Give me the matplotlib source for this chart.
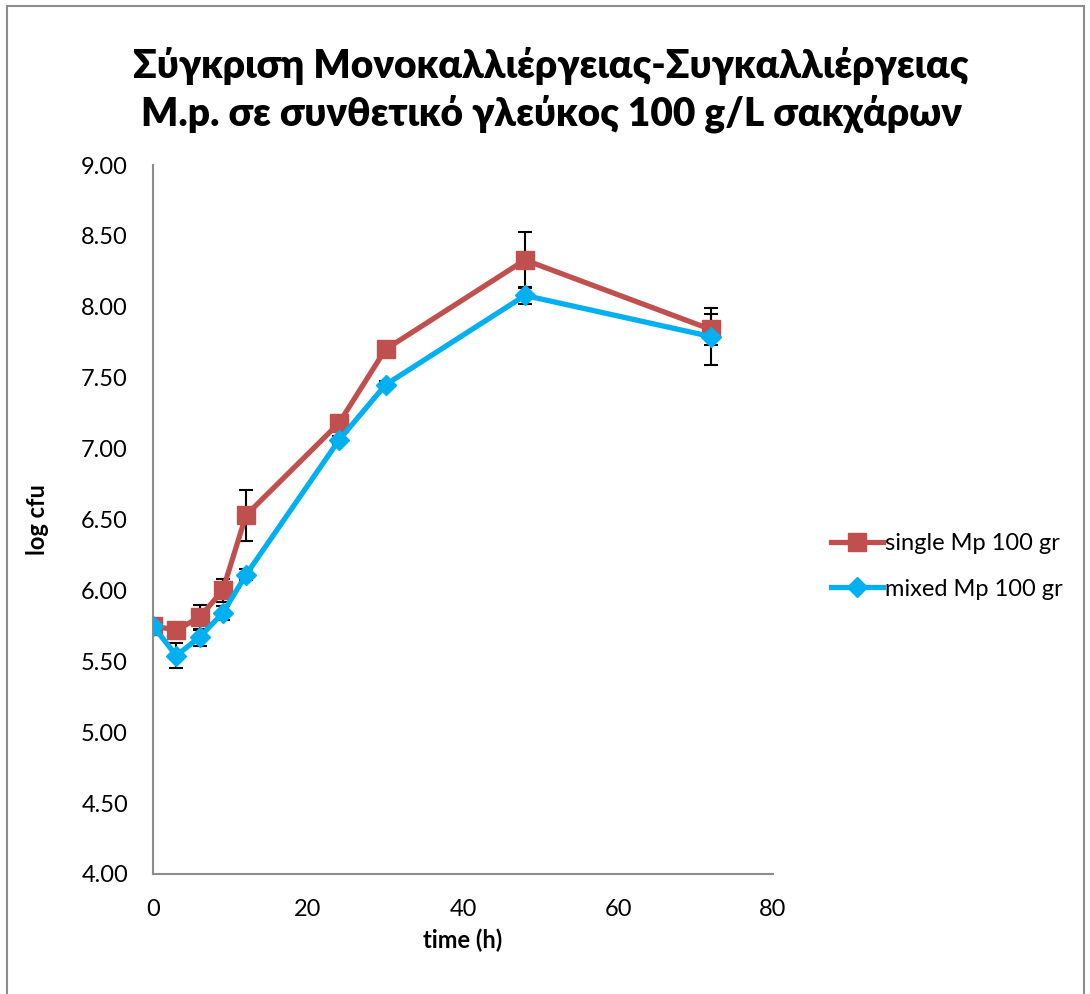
import matplotlib.pyplot as plt
from matplotlib.patches import Rectangle

plt.rcParams['font.family'] = ['Lato', 'DejaVu Sans']

# χρόνος δειγματοληψίας (h)
time_h = [0, 3, 6, 9, 12, 24, 30, 48, 72]

# μονοκαλλιέργεια
single_log = [5.75, 5.72, 5.81, 6.00, 6.53, 7.18, 7.70, 8.33, 7.84]
single_err = [0.03, 0.05, 0.09, 0.08, 0.18, 0.03, 0.03, 0.20, 0.11]

# συγκαλλιέργεια
mixed_log = [5.75, 5.54, 5.67, 5.84, 6.11, 7.06, 7.45, 8.08, 7.79]
mixed_err = [0.03, 0.09, 0.06, 0.05, 0.04, 0.03, 0.03, 0.06, 0.20]

red = '#C0504D'
blue = '#00B0F0'

fig = plt.figure(figsize=(10.9, 9.94), dpi=100)
ax = fig.add_axes([153 / 1090, 1 - 874 / 994, 620 / 1090, 709 / 994])

# πλαίσιο γύρω από το γράφημα
fig.patches.append(Rectangle((7 / 1090, -0.01), 1077 / 1090, 1 - 6 / 994 + 0.01,
                             transform=fig.transFigure, fill=False,
                             edgecolor='#8C8C8C', linewidth=1.5))

ax.errorbar(time_h, single_log, yerr=single_err, fmt='none', ecolor='black',
            elinewidth=1.5, capsize=5, capthick=1.5, zorder=2)
ax.errorbar(time_h, mixed_log, yerr=mixed_err, fmt='none', ecolor='black',
            elinewidth=1.5, capsize=5, capthick=1.5, zorder=2)

ax.plot(time_h, single_log, color=red, linewidth=3.8, marker='s',
        markersize=13, label='single Mp 100 gr', zorder=3)
ax.plot(time_h, mixed_log, color=blue, linewidth=3.8, marker='D',
        markersize=10, label='mixed Mp 100 gr', zorder=4)

ax.set_xlim(0, 80)
ax.set_ylim(4, 9)
ax.set_xticks([0, 20, 40, 60, 80])
ax.set_yticks([4.0, 4.5, 5.0, 5.5, 6.0, 6.5, 7.0, 7.5, 8.0, 8.5, 9.0])
ax.set_yticklabels(['%.2f' % v for v in ax.get_yticks()])
ax.tick_params(length=0, labelsize=17, pad=18)

for side in ['top', 'right']:
    ax.spines[side].set_visible(False)
for side in ['left', 'bottom']:
    ax.spines[side].set_color('#8C8C8C')
    ax.spines[side].set_linewidth(1.5)

ax.set_xlabel('time (h)', fontsize=17, fontweight='bold', labelpad=6)
ax.set_ylabel('log cfu', fontsize=17, fontweight='bold', labelpad=23)

fig.text(551 / 1090, 1 - 90 / 994,
         'Σύγκριση Μονοκαλλιέργειας-Συγκαλλιέργειας\nΜ.p. σε συνθετικό γλεύκος 100 g/L σακχάρων',
         ha='center', va='center', fontsize=28, fontweight='heavy', linespacing=1.32)

ax.legend(loc='center left', bbox_to_anchor=(1.06, 0.434), frameon=False,
          fontsize=17, handlelength=2.2, handletextpad=0.05, labelspacing=1.05)

fig.savefig('out.png', dpi=100)
